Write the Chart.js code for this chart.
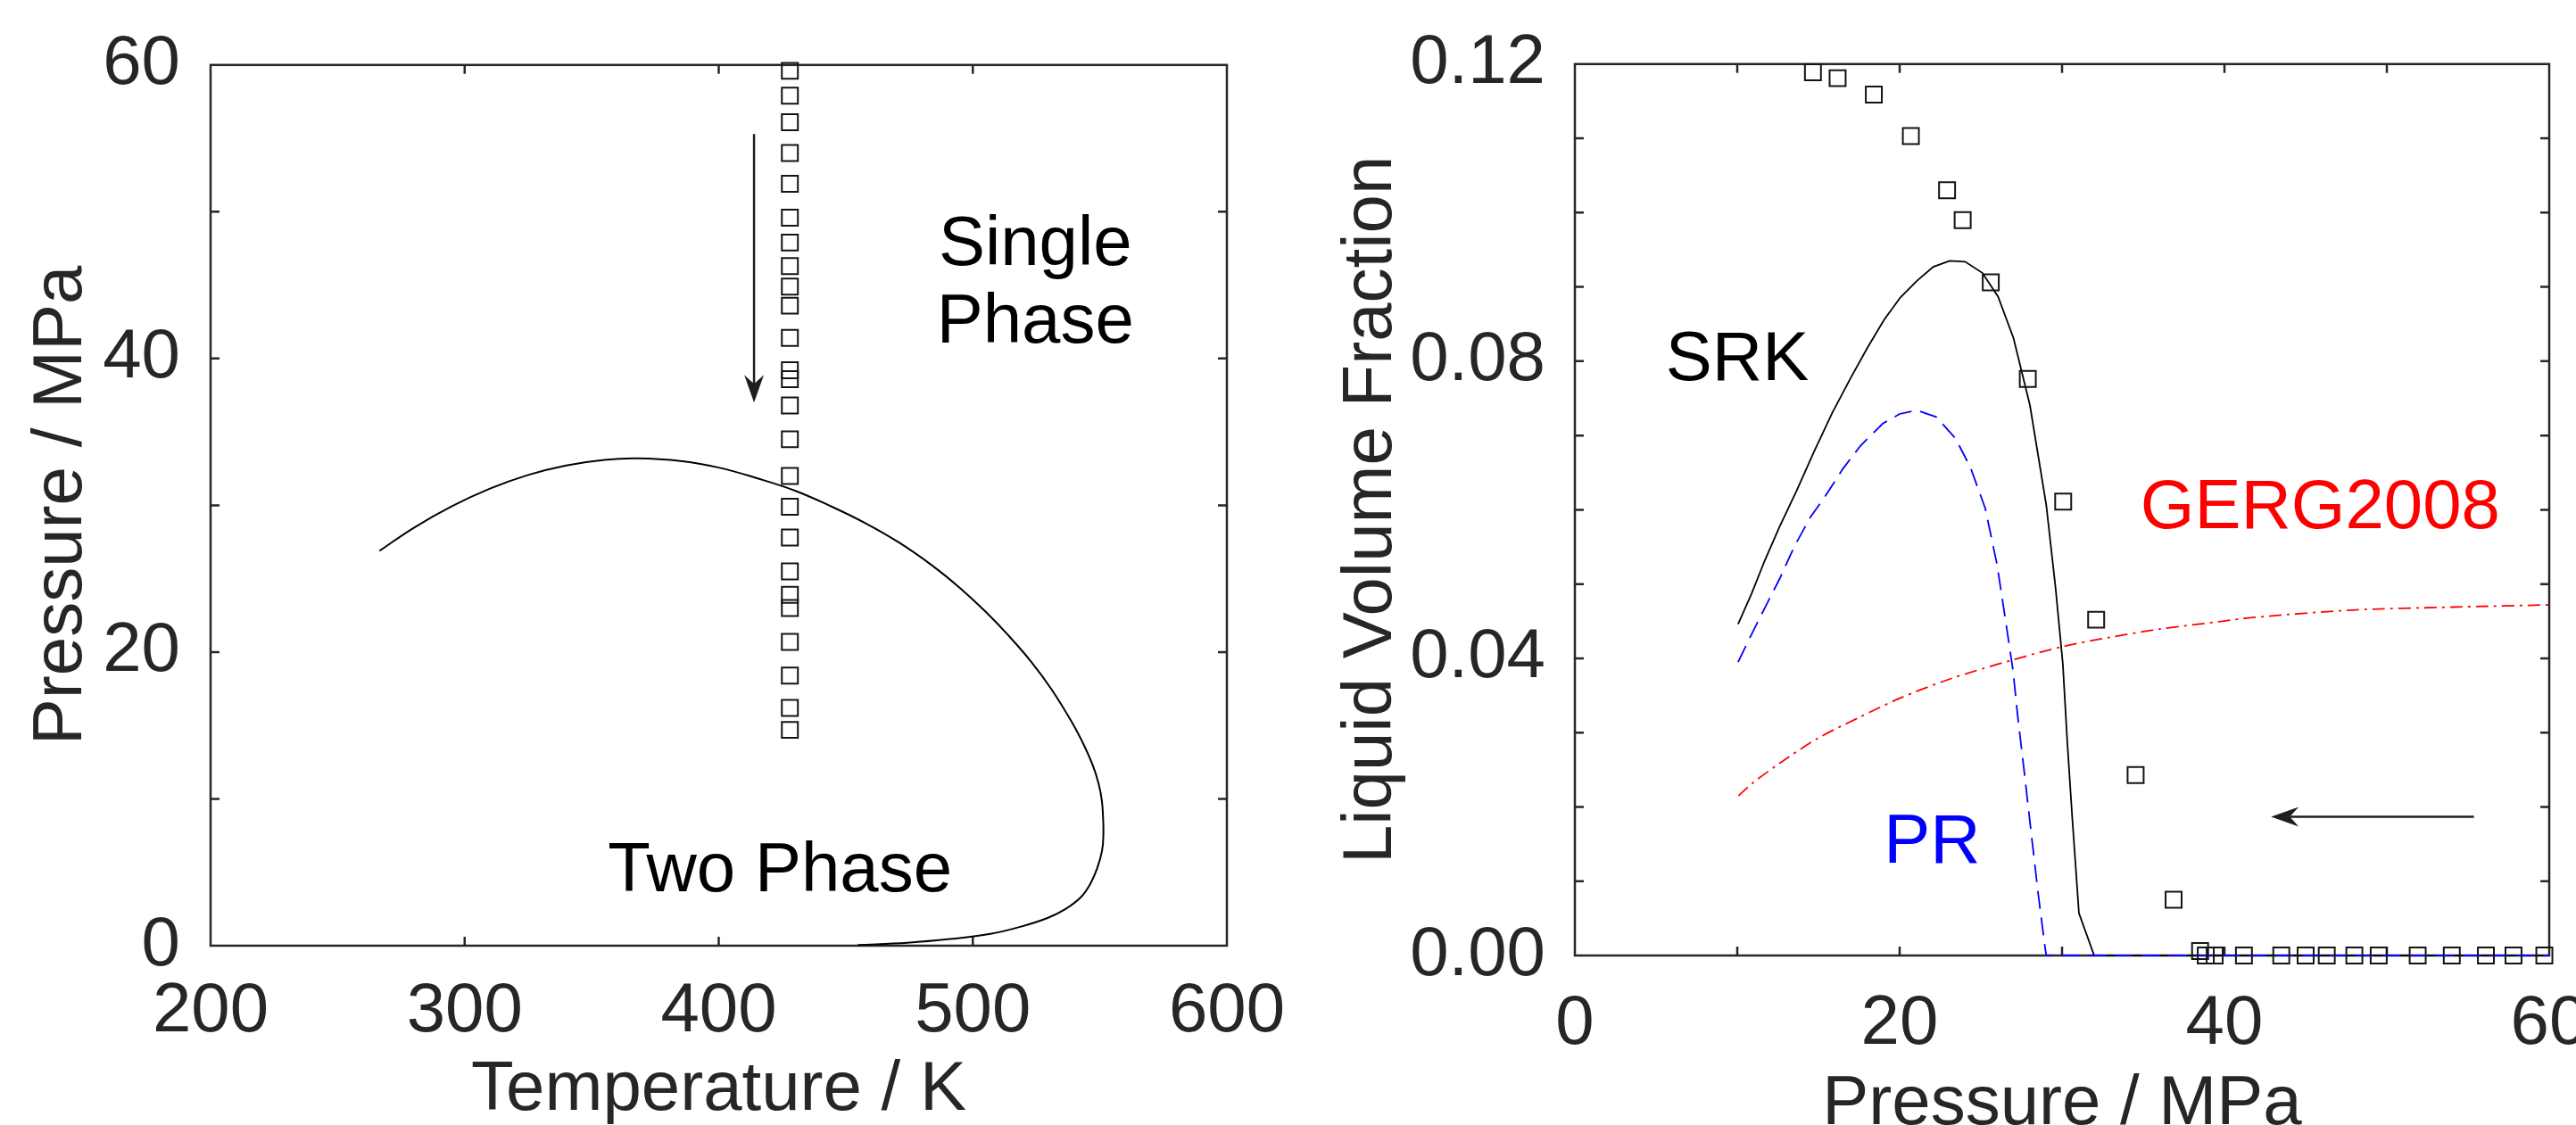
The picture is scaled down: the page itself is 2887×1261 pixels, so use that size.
<!DOCTYPE html>
<html>
<head>
<meta charset="utf-8">
<script src="https://cdn.jsdelivr.net/npm/chart.js@4.4.1/dist/chart.umd.min.js"></script>
<style>
  html, body { margin:0; padding:0; background:#ffffff; overflow:hidden; width:2887px; height:1261px; }
  #ca { position:absolute; left:0; top:0; }
  #cb { position:absolute; left:1440px; top:0; }
</style>
</head>
<body>
<canvas id="ca" width="1520" height="1261"></canvas>
<canvas id="cb" width="1600" height="1261"></canvas>
<script>
const FONT = "'Liberation Sans', Arial, Helvetica, sans-serif";
const AXIS_COLOR = '#262626';

// ---------- Left panel: phase envelope ----------
const envelopeT = [266.5, 280, 295, 310, 325, 340, 355, 368, 385, 400, 415, 430, 444, 458, 471, 484, 495, 505, 514, 523, 531, 539, 544, 547.3, 549.5, 550.8, 551.3, 551.4, 550.9, 549.0, 546.2, 542.5, 536.5, 529.6, 519, 506.9, 491, 474.3, 454.8];
const envelopeP = [26.9, 28.47, 29.94, 31.14, 32.07, 32.72, 33.10, 33.2, 33.02, 32.57, 31.85, 31.0, 29.95, 28.76, 27.46, 25.9, 24.36, 22.76, 21.14, 19.34, 17.46, 15.22, 13.57, 12.25, 11.04, 9.87, 8.6, 7.6, 6.5, 5.3, 4.2, 3.3, 2.5, 1.9, 1.3, 0.8, 0.45, 0.2, 0.05];
const expT = [428, 428, 428, 428, 428, 428, 428, 428, 428, 428, 428, 428, 428, 428, 428, 428, 428, 428, 428, 428, 428, 428, 428, 428, 428];
const expPLeft = [59.6, 57.9, 56.1, 54.0, 51.9, 49.6, 47.9, 46.3, 44.9, 43.6, 41.4, 39.2, 38.6, 36.8, 34.5, 32.0, 29.9, 27.8, 25.5, 23.9, 23.0, 20.7, 18.4, 16.2, 14.7];

const leftXTicks = [200, 300, 400, 500, 600];
const leftXTickLabels = ['200', '300', '400', '500', '600'];
const leftYTicks = [0, 20, 40, 60];
const leftYTickLabels = ['0', '20', '40', '60'];
const leftXMarks = [300, 400, 500];
const leftYMarks = [10, 20, 30, 40, 50];

const leftNotes = ['Single', 'Phase', 'Two Phase'];
const leftNoteX = [524.6, 524.6, 424.1];
const leftNoteY = [47.7, 42.4, 5.0];
const leftArrowFrom = [413.9, 55.3];
const leftArrowTo = [413.9, 37.0];

// ---------- Right panel: liquid volume fraction ----------
const expP = [14.66, 16.18, 18.41, 20.69, 22.92, 23.88, 25.61, 27.89, 30.07, 32.1, 34.53, 36.87, 38.5, 38.85, 39.4, 41.2, 43.5, 45.0, 46.3, 48.0, 49.5, 51.9, 54.0, 56.1, 57.8, 59.7];
const expLVF = [0.1189, 0.1181, 0.1159, 0.1103, 0.1030, 0.0990, 0.0906, 0.0776, 0.0611, 0.0452, 0.0243, 0.0075, 0.0006, 0, 0, 0, 0, 0, 0, 0, 0, 0, 0, 0, 0, 0];

const srkP = [10.05, 10.9, 11.7, 12.6, 13.64, 14.7, 15.84, 17.0, 18.04, 19.05, 20.05, 21.06, 22.07, 23.08, 24.03, 25.09, 26.06, 27.01, 28.02, 29.03, 29.6, 30.05, 30.33, 30.63, 31.04, 31.98, 60];
const srkLVF = [0.0446, 0.0488, 0.0532, 0.0577, 0.0625, 0.0677, 0.0730, 0.0778, 0.0819, 0.0856, 0.0886, 0.0908, 0.0927, 0.0935, 0.0934, 0.0919, 0.0887, 0.0831, 0.0741, 0.0606, 0.0495, 0.0392, 0.0285, 0.0185, 0.0057, 0, 0];

const prP = [10.05, 10.87, 11.7, 12.63, 13.5, 14.5, 15.38, 16.5, 17.58, 18.96, 20.0, 21.06, 22.25, 23.44, 24.36, 25.27, 26.0, 26.57, 26.98, 27.26, 27.69, 28.1, 28.52, 28.94, 29.03, 60];
const prLVF = [0.0395, 0.0432, 0.0468, 0.0508, 0.0550, 0.0590, 0.0617, 0.0655, 0.0686, 0.0716, 0.0729, 0.0734, 0.0725, 0.0696, 0.0657, 0.0602, 0.0526, 0.0444, 0.0384, 0.0324, 0.0244, 0.0165, 0.0085, 0.0013, 0, 0];

const gergP = [10.08, 11.0, 12.69, 14.93, 17.46, 19.98, 23.06, 26.98, 30.07, 32.87, 35.9, 39.88, 41.74, 47.9, 54.08, 60];
const gergLVF = [0.0215, 0.0233, 0.0260, 0.0292, 0.0320, 0.0346, 0.0372, 0.0398, 0.0416, 0.0428, 0.0439, 0.0450, 0.0455, 0.0465, 0.0469, 0.0472];

const rightXTicks = [0, 20, 40, 60];
const rightXTickLabels = ['0', '20', '40', '60'];
const rightYTicks = [0, 0.04, 0.08, 0.12];
const rightYTickLabels = ['0.00', '0.04', '0.08', '0.12'];
const rightXMarks = [10, 20, 30, 40, 50];
const rightYMarks = [0.01, 0.02, 0.03, 0.04, 0.05, 0.06, 0.07, 0.08, 0.09, 0.10, 0.11];

const rightNotes = ['SRK', 'GERG2008', 'PR'];
const rightNoteX = [10.0, 45.9, 22.0];
const rightNoteY = [0.0800, 0.0601, 0.0151];
const rightNoteColors = ['#000000', '#ff0000', '#0000ff'];
const rightArrowFrom = [55.36, 0.01866];
const rightArrowTo = [42.87, 0.01866];

// ---------- helpers ----------
const pts = (xs, ys) => xs.map((v, i) => ({ x: v, y: ys[i] }));

const framePlugin = {
  id: 'frame',
  beforeDatasetsDraw(chart, args, opts) {
    const { ctx, chartArea: a, scales } = chart;
    const x = scales.x, y = scales.y;
    ctx.save();
    ctx.strokeStyle = AXIS_COLOR;
    ctx.lineWidth = 2.5;
    ctx.strokeRect(a.left, a.top, a.right - a.left, a.bottom - a.top);
    const L = 10;
    ctx.beginPath();
    opts.xMarks.forEach(v => {
      const px = x.getPixelForValue(v);
      ctx.moveTo(px, a.bottom); ctx.lineTo(px, a.bottom - L);
      ctx.moveTo(px, a.top); ctx.lineTo(px, a.top + L);
    });
    opts.yMarks.forEach(v => {
      const py = y.getPixelForValue(v);
      ctx.moveTo(a.left, py); ctx.lineTo(a.left + L, py);
      ctx.moveTo(a.right, py); ctx.lineTo(a.right - L, py);
    });
    ctx.stroke();
    ctx.restore();
  }
};

function drawArrow(ctx, x0, y0, x1, y1, color) {
  const ang = Math.atan2(y1 - y0, x1 - x0);
  const HL = 31, HW = 11, notch = 21;
  ctx.save();
  ctx.strokeStyle = color;
  ctx.lineWidth = 2.5;
  ctx.beginPath();
  ctx.moveTo(x0, y0);
  ctx.lineTo(x1 - Math.cos(ang) * notch, y1 - Math.sin(ang) * notch);
  ctx.stroke();
  ctx.translate(x1, y1);
  ctx.rotate(ang);
  ctx.beginPath();
  ctx.moveTo(0, 0);
  ctx.lineTo(-HL, -HW);
  ctx.lineTo(-notch, 0);
  ctx.lineTo(-HL, HW);
  ctx.closePath();
  ctx.fillStyle = color;
  ctx.fill();
  ctx.restore();
}

const notesPlugin = {
  id: 'notes',
  afterDatasetsDraw(chart, args, opts) {
    const { ctx, scales } = chart;
    const x = scales.x, y = scales.y;
    ctx.save();
    ctx.font = '78px ' + FONT;
    ctx.textAlign = 'center';
    ctx.textBaseline = 'middle';
    opts.texts.forEach((t, i) => {
      ctx.fillStyle = opts.colors[i];
      ctx.fillText(t, x.getPixelForValue(opts.xs[i]), y.getPixelForValue(opts.ys[i]));
    });
    ctx.restore();
    drawArrow(ctx,
      x.getPixelForValue(opts.arrowFrom[0]), y.getPixelForValue(opts.arrowFrom[1]),
      x.getPixelForValue(opts.arrowTo[0]), y.getPixelForValue(opts.arrowTo[1]), '#1e1e1e');
  }
};

function axisFont() { return { family: FONT, size: 78 }; }

function makeScales(cfg) {
  return {
    x: {
      type: 'linear', position: 'bottom', min: cfg.xMin, max: cfg.xMax,
      grid: { display: false }, border: { display: false },
      afterBuildTicks: s => { s.ticks = cfg.xTicks.map(v => ({ value: v })); },
      ticks: {
        autoSkip: false, maxRotation: 0, minRotation: 0, padding: cfg.xTickPad,
        color: AXIS_COLOR, font: axisFont(),
        callback: v => cfg.xLabels[cfg.xTicks.indexOf(v)]
      },
      title: {
        display: true, text: cfg.xTitle, color: AXIS_COLOR,
        font: { family: FONT, size: 78, lineHeight: 1 },
        padding: { top: 0, bottom: cfg.xTitlePad }
      },
      afterFit: s => { s.height = cfg.xAxisH; }
    },
    y: {
      type: 'linear', position: 'left', min: cfg.yMin, max: cfg.yMax,
      grid: { display: false }, border: { display: false },
      afterBuildTicks: s => { s.ticks = cfg.yTicks.map(v => ({ value: v })); },
      ticks: {
        autoSkip: false, padding: cfg.yTickPad,
        color: AXIS_COLOR, font: axisFont(),
        callback: v => cfg.yLabels[cfg.yTicks.indexOf(v)]
      },
      title: {
        display: true, text: cfg.yTitle, color: AXIS_COLOR,
        font: { family: FONT, size: 78, lineHeight: 1 },
        padding: { top: cfg.yTitlePad, bottom: 0 }
      },
      afterFit: s => { s.width = cfg.yAxisW; }
    }
  };
}

const squareStyle = {
  showLine: false, pointStyle: 'rect', pointRadius: 12.7, pointHoverRadius: 12.7,
  borderColor: '#141414', pointBorderColor: '#141414', pointBorderWidth: 2, borderWidth: 2,
  backgroundColor: 'rgba(0,0,0,0)', pointBackgroundColor: 'rgba(0,0,0,0)', clip: false
};

// ---------- Left chart ----------
new Chart(document.getElementById('ca'), {
  type: 'scatter',
  data: {
    datasets: [
      Object.assign({ data: pts(expT, expPLeft) }, squareStyle),
      { data: pts(envelopeT, envelopeP), showLine: true, borderColor: '#000000', borderWidth: 2,
        pointRadius: 0, pointHoverRadius: 0, tension: 0.4, fill: false, clip: false }
    ]
  },
  options: {
    responsive: false, animation: false, devicePixelRatio: 1,
    layout: { padding: { left: 0, top: 72, right: 145, bottom: 0 } },
    plugins: {
      legend: { display: false }, tooltip: { enabled: false },
      frame: { xMarks: leftXMarks, yMarks: leftYMarks },
      notes: { texts: leftNotes, xs: leftNoteX, ys: leftNoteY, colors: ['#000', '#000', '#000'],
               arrowFrom: leftArrowFrom, arrowTo: leftArrowTo }
    },
    scales: makeScales({
      xMin: 200, xMax: 600, yMin: 0, yMax: 60,
      xTicks: leftXTicks, xLabels: leftXTickLabels, yTicks: leftYTicks, yLabels: leftYTickLabels,
      xTitle: 'Temperature / K', yTitle: 'Pressure / MPa',
      xTickPad: 20, yTickPad: 26, xTitlePad: 0, yTitlePad: 30, xAxisH: 201, yAxisW: 236
    })
  },
  plugins: [framePlugin, notesPlugin]
});

// ---------- Right chart ----------
new Chart(document.getElementById('cb'), {
  type: 'scatter',
  data: {
    datasets: [
      Object.assign({ data: pts(expP, expLVF) }, squareStyle),
      { data: pts(prP, prLVF), showLine: true, borderColor: '#0000ff', borderWidth: 1.8, borderDash: [20, 10],
        pointRadius: 0, pointHoverRadius: 0, tension: 0, fill: false, clip: false },
      { data: pts(srkP, srkLVF), showLine: true, borderColor: '#000000', borderWidth: 1.8,
        pointRadius: 0, pointHoverRadius: 0, tension: 0, fill: false, clip: false },
      { data: pts(gergP, gergLVF), showLine: true, borderColor: '#ff0000', borderWidth: 1.8, borderDash: [14, 6, 3, 6],
        pointRadius: 0, pointHoverRadius: 0, tension: 0.3, fill: false, clip: false }
    ]
  },
  options: {
    responsive: false, animation: false, devicePixelRatio: 1,
    layout: { padding: { left: 0, top: 68, right: 183, bottom: 0 } },
    plugins: {
      legend: { display: false }, tooltip: { enabled: false },
      frame: { xMarks: rightXMarks, yMarks: rightYMarks },
      notes: { texts: rightNotes, xs: rightNoteX, ys: rightNoteY, colors: rightNoteColors,
               arrowFrom: rightArrowFrom, arrowTo: rightArrowTo }
    },
    scales: makeScales({
      xMin: 0, xMax: 60, yMin: 0, yMax: 0.12,
      xTicks: rightXTicks, xLabels: rightXTickLabels, yTicks: rightYTicks, yLabels: rightYTickLabels,
      xTitle: 'Pressure / MPa', yTitle: 'Liquid Volume Fraction',
      xTickPad: 23, yTickPad: 25, xTitlePad: -16, yTitlePad: 58, xAxisH: 190, yAxisW: 325
    })
  },
  plugins: [framePlugin, notesPlugin]
});
</script>
</body>
</html>
